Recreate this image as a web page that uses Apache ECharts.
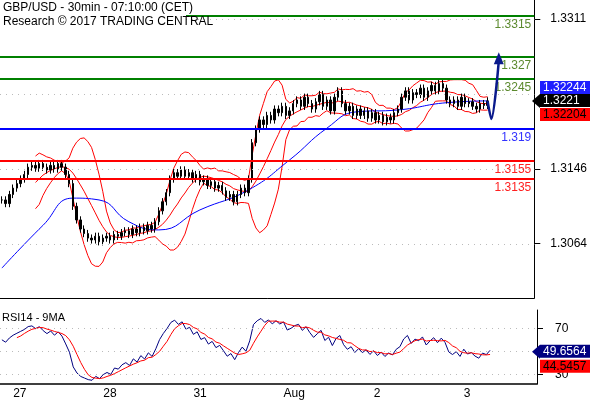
<!DOCTYPE html>
<html><head><meta charset="utf-8">
<script src="https://cdn.jsdelivr.net/npm/echarts@6/dist/echarts.min.js"></script>
<style>html,body{margin:0;padding:0;background:#fff}#c{width:590px;height:400px}</style>
</head><body><div id="c"></div>
<script>
// closes in pips above 1.3000, one per hour
var closes = [112,108,118,125,130,135,140,148,150,147,152,148,145,150,146,152,148,140,130,105,90,80,75,70,
  68,72,66,70,72,68,74,72,76,78,74,80,76,82,78,84,80,88,100,110,120,135,142,138,
  145,138,142,135,140,132,135,128,132,125,128,122,115,118,110,118,125,120,135,175,190,200,195,205,
  200,212,208,215,205,210,218,222,215,225,218,212,220,228,215,222,210,225,232,218,210,215,205,212,
  205,210,202,208,200,205,198,203,200,208,212,225,232,222,230,228,235,225,232,238,232,240,235,222,
  218,222,215,225,218,220,215,212,218,216,221];
var dayLabels = {3:'27', 27:'28', 51:'31', 75:'Aug', 99:'2', 123:'3'};
var maPoints = [[0,37],[11,84],[19,114],[26,112],[34,88],[42,79],[53,101],[66,123],[77,156],[87,191],[95,209],[106,211],[119,219],[130,221]];
var forecast = [[130,221],[131,201],[133,265]];
var levels = [{v:315,c:'#008000',t:'1.3315',lc:'#5c8a2e'},{v:270,c:'#008000',t:'1.327',lc:'#5c8a2e'},
  {v:245,c:'#008000',t:'1.3245',lc:'#5c8a2e'},{v:190,c:'#0000ff',t:'1.319',lc:'#3333ff'},
  {v:155,c:'#ff0000',t:'1.3155',lc:'#ff2020'},{v:135,c:'#ff0000',t:'1.3135',lc:'#ff2020'}];
var priceTicks = [64,146,311];
var dotted = [63.5,146,228.5,311];

var N = 143, cats = [];
for (var i = 0; i < N; i++) cats.push(dayLabels[i] || '');
var bars = closes.map(function (c, i) {
  var o = i ? closes[i - 1] : c;
  return [o, c, Math.min(o, c) - 4, Math.max(o, c) + 4];
});
// bollinger 10 / 2
var up = [], mid = [], lo = [];
closes.forEach(function (c, i) {
  if (i < 9) { up.push('-'); mid.push('-'); lo.push('-'); return; }
  var s = closes.slice(i - 9, i + 1), m = s.reduce(function (a, b) { return a + b; }) / 10;
  var sd = Math.sqrt(s.reduce(function (a, b) { return a + (b - m) * (b - m); }, 0) / 10);
  mid.push(m); up.push(m + 2 * sd); lo.push(m - 2 * sd);
});
// rsi 12 + ma 5
var rsi = [], rma = [], ag = 6, al = 4, P = 12;
closes.forEach(function (c, i) {
  if (i > 0) {
    var d = c - closes[i - 1];
    ag = (ag * (P - 1) + Math.max(d, 0)) / P; al = (al * (P - 1) + Math.max(-d, 0)) / P;
  }
  rsi.push(100 - 100 / (1 + ag / al));
});
rsi.forEach(function (v, i) {
  if (i < 4) { rma.push('-'); return; }
  rma.push((rsi[i] + rsi[i - 1] + rsi[i - 2] + rsi[i - 3] + rsi[i - 4]) / 5);
});
function fmt(v) { return (1.3 + v / 10000).toFixed(4); }

var chart = echarts.init(document.getElementById('c'));
var lvlLines = levels.map(function (l) {
  return {yAxis: l.v, lineStyle: {color: l.c, width: 2, type: 'solid'},
    label: {show: true, position: 'insideEndBottom', formatter: l.t, color: l.lc, fontSize: 12, distance: [3, 3]}};
}).concat(dotted.map(function (d) {
  return {yAxis: d, lineStyle: {color: '#bbb', width: 1, type: [1, 5]}, label: {show: false}};
}));
var redLine = {color: '#ff0000', width: 1};
chart.setOption({
  animation: false,
  textStyle: {fontFamily: 'Arial, Liberation Sans'},
  grid: [{left: 0, top: 0, width: 537, height: 298}, {left: 0, top: 310, width: 537, height: 77}],
  xAxis: [
    {type: 'category', data: cats, gridIndex: 0, boundaryGap: true, axisLabel: {show: false}, axisTick: {show: false},
      axisLine: {lineStyle: {color: '#000'}}},
    {type: 'category', data: cats, gridIndex: 1, boundaryGap: true,
      axisLine: {lineStyle: {color: '#000', width: 1.5}},
      axisTick: {interval: function (i) { return !!dayLabels[i]; }, length: 5, inside: true, lineStyle: {color: '#000'}},
      axisLabel: {interval: function (i) { return !!dayLabels[i]; }, color: '#000', fontSize: 12, margin: 4, align: 'left'}}
  ],
  yAxis: [
    {type: 'value', gridIndex: 0, position: 'right', min: 4.1, max: 332, splitLine: {show: false},
      axisLine: {show: true, lineStyle: {color: '#000'}},
      axisTick: {show: true, customValues: priceTicks, length: 6, lineStyle: {color: '#000'}},
      axisLabel: {customValues: priceTicks, formatter: fmt, color: '#000', fontSize: 12, margin: 16}},
    {type: 'value', gridIndex: 1, position: 'right', min: 21.7, max: 85.8, splitLine: {show: false},
      axisLine: {show: true, lineStyle: {color: '#000'}},
      axisTick: {show: true, customValues: [30, 70], length: 6, lineStyle: {color: '#000'}},
      axisLabel: {customValues: [30, 70], color: '#000', fontSize: 12, margin: 18}}
  ],
  series: [
    {type: 'line', data: [], markLine: {silent: true, symbol: 'none', data: lvlLines}},
    {type: 'line', data: up, symbol: 'none', lineStyle: redLine, z: 3},
    {type: 'line', data: mid, symbol: 'none', lineStyle: redLine, z: 3},
    {type: 'line', data: lo, symbol: 'none', lineStyle: redLine, z: 3},
    {type: 'line', data: maPoints, symbol: 'none', smooth: true, lineStyle: {color: '#0000ff', width: 1}, z: 3},
    {type: 'candlestick', data: bars, barMaxWidth: 2, z: 4,
      itemStyle: {color: '#000', color0: '#000', borderColor: '#000', borderColor0: '#000', borderWidth: 1}},
    {type: 'line', data: forecast, symbol: 'none', smooth: 0.3, lineStyle: {color: '#0a1a8c', width: 2.5}, z: 5,
      markPoint: {symbol: 'triangle', symbolSize: [10, 12], itemStyle: {color: '#0a1a8c'}, label: {show: false},
        data: [{coord: [133, 268]}]}},
    {type: 'line', xAxisIndex: 1, yAxisIndex: 1, data: rsi, symbol: 'none', lineStyle: {color: '#000080', width: 1},
      markLine: {silent: true, symbol: 'none', label: {show: false}, lineStyle: {color: '#bbb', type: [1, 5], width: 1},
        data: [{yAxis: 30}, {yAxis: 50}, {yAxis: 70}]}},
    {type: 'line', xAxisIndex: 1, yAxisIndex: 1, data: rma, symbol: 'none', lineStyle: {color: '#ff0000', width: 1}}
  ]
});
function py(v, idx) { return chart.convertToPixel({yAxisIndex: idx}, v); }
function badge(text, y, bg, fg) {
  return {type: 'text', left: 540, top: y - 7, z: 10,
    style: {text: text, fill: fg, backgroundColor: bg, font: '12px Arial', padding: [1, 3, 0, 3], width: 52}};
}
var yb = py(221, 0), yr = py(49.66, 1);
chart.setOption({graphic: [
  {type: 'rect', shape: {x: 0, y: 0, width: 186, height: 30}, style: {fill: '#fff'}, z: 9},
  {type: 'text', left: 3, top: 1, z: 10, style: {text: 'GBP/USD - 30min - 07:10:00 (CET)\nResearch © 2017 TRADING CENTRAL',
    font: '12px Arial', fill: '#000', lineHeight: 14}},
  {type: 'text', left: 2, top: 312, z: 10, style: {text: 'RSI14 - 9MA', font: '11px Arial', fill: '#000'}},
  badge('1.32244', yb - 13, '#1f1fff', '#fff'),
  {type: 'polygon', z: 10, shape: {points: [[532, yb], [540, yb - 7], [540, yb + 7]]}, style: {fill: '#000'}},
  badge('1.3221', yb, '#000', '#fff'),
  badge('1.32204', yb + 14, '#ff0000', '#000'),
  {type: 'polygon', z: 10, shape: {points: [[532, yr], [540, yr - 7], [540, yr + 7]]}, style: {fill: '#000080'}},
  badge('49.6564', yr, '#000080', '#fff'),
  badge('44.5457', yr + 15, '#ff0000', '#000')
]});
</script></body></html>
